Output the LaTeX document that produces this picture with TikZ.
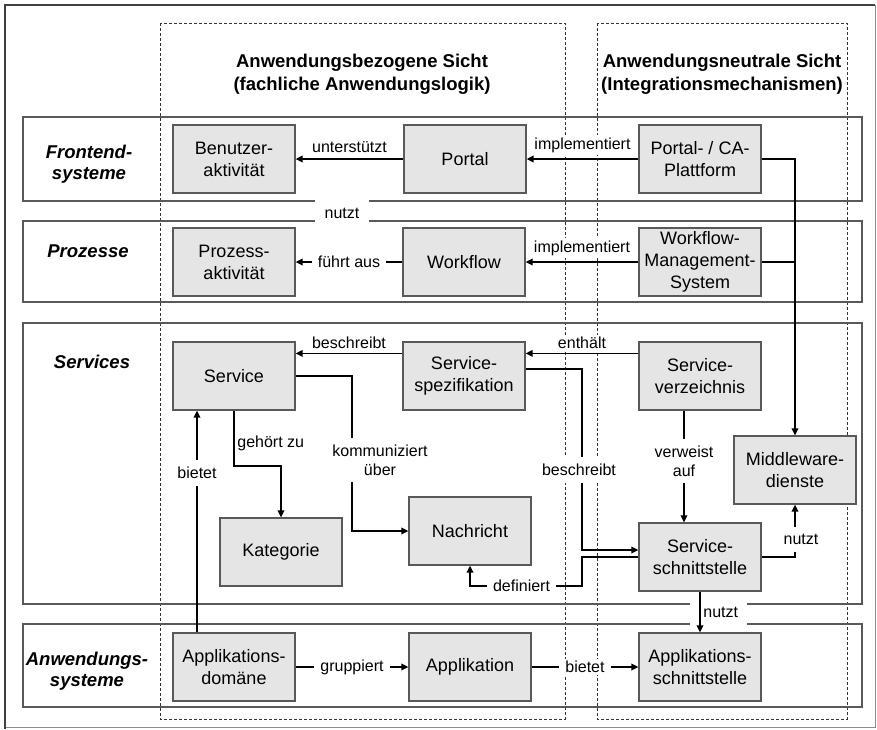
\documentclass[tikz,border=0pt]{standalone}
\usepackage{fontspec}
\setmainfont{Liberation Sans}
\usetikzlibrary{arrows.meta}

\tikzset{
  objekt/.style={draw=black!65, fill=black!10, line width=1.2pt, minimum width=122pt, minimum height=68pt, align=center, inner sep=2pt, font=\fontsize{18}{22}\selectfont},
  ebene/.style={draw=black!65, line width=1.1pt},
  sicht/.style={draw=black!80, line width=0.8pt, dash pattern=on 3pt off 2pt},
  beziehung/.style={line width=1.8pt, -{Triangle[length=7pt,width=6.5pt]}},
  linie/.style={line width=1.8pt},
  beschr/.style={fill=white, inner sep=2.5pt, align=center, font=\fontsize{16}{19}\selectfont},
  quer/.style={beschr, inner xsep=6pt},
  laengs/.style={beschr, inner ysep=7pt},
  ebenentitel/.style={align=center, font=\bfseries\itshape\fontsize{18.5}{21}\selectfont},
  sichttitel/.style={align=center, font=\bfseries\fontsize{18.5}{23}\selectfont}
}

\begin{document}
\begin{tikzpicture}[x=1pt, y=-1pt]
  \useasboundingbox (0,0) rectangle (877,729);

  % Rahmen
  \draw[black!45, line width=0.8pt] (875,5) -- (875,727) -- (5,727);
  \draw[black!75, line width=2.2pt] (5,729) -- (5,5) -- (875,5);

  % Sichten
  \draw[sicht] (160,23) rectangle (565,719);
  \draw[sicht] (597,23) rectangle (847,719);
  \node[sichttitel] (fachlich) at (362,74) {Anwendungsbezogene Sicht\\(fachliche Anwendungslogik)};
  \node[sichttitel] (neutral) at (722,74) {Anwendungsneutrale Sicht\\(Integrationsmechanismen)};

  % Ebenen
  \draw[ebene] (315,201) -- (23,201) -- (23,117) -- (862,117) -- (862,201) -- (369,201);
  \draw[ebene] (315,221) -- (23,221) -- (23,302) -- (862,302) -- (862,221) -- (369,221);
  \draw[ebene] (690,604) -- (23,604) -- (23,323) -- (862,323) -- (862,604) -- (747,604);
  \draw[ebene] (690,624) -- (23,624) -- (23,707) -- (862,707) -- (862,624) -- (747,624);

  \node[ebenentitel] (frontend) at (89,164) {Frontend-\\systeme};
  \node[ebenentitel] (prozesse) at (88,251) {Prozesse};
  \node[ebenentitel] (services) at (92,362) {Services};
  \node[ebenentitel] (anwendung) at (87,671) {Anwendungs-\\systeme};
  \node[beschr, fill=none] (nutztfront) at (342,213) {nutzt};

  % Objekte
  \node[objekt] (benutzer) at (234,159) {Benutzer-\\aktivität};
  \node[objekt] (portal) at (465,159) {Portal};
  \node[objekt] (plattform) at (700,159) {Portal- / CA-\\Plattform};

  \node[objekt] (prozess) at (234,262) {Prozess-\\aktivität};
  \node[objekt] (workflow) at (464,262) {Workflow};
  \node[objekt] (wms) at (700,262) {Workflow-\\Management-\\System};

  \node[objekt] (service) at (234,376) {Service};
  \node[objekt] (spez) at (464,376) {Service-\\spezifikation};
  \node[objekt] (verz) at (700,376) {Service-\\verzeichnis};
  \node[objekt] (middleware) at (795,470) {Middleware-\\dienste};
  \node[objekt] (kategorie) at (281,552) {Kategorie};
  \node[objekt] (nachricht) at (470,531) {Nachricht};
  \node[objekt] (schnitt) at (700,557) {Service-\\schnittstelle};

  \node[objekt] (domaene) at (234,667) {Applikations-\\domäne};
  \node[objekt] (applikation) at (470,667) {Applikation};
  \node[objekt] (aschnitt) at (700,667) {Applikations-\\schnittstelle};

  \coordinate (kx) at (352,460);
  \coordinate (bx) at (582,470);
  \coordinate (dx) at (582,586);

  % Beziehungen
  \draw[beziehung] (portal) -- node[beschr, above=3pt] {unterstützt} (benutzer);
  \draw[beziehung] (plattform) -- node[beschr, above=3pt] {implementiert} (portal);
  \draw[beziehung] (plattform.east) -| (middleware.north);

  \draw[beziehung] (workflow) -- node[quer] {führt aus} (prozess);
  \draw[beziehung] (wms) -- node[beschr, above=3pt] {implementiert} (workflow);
  \draw[linie] (wms.east) -- (wms.east -| middleware.north);

  \draw[beziehung] ([yshift=-12pt]spez.north west) -- node[beschr, above=1pt] {beschreibt} ([yshift=-12pt]service.north east);
  \draw[beziehung] ([yshift=-12pt]verz.north west) -- node[beschr, above=1pt] {enthält} ([yshift=-12pt]spez.north east);
  \draw[beziehung] (service.east) -| (kx) node[laengs, xshift=28pt] {kommuniziert\\über} |- (nachricht.west);
  \draw[beziehung] (service.south) -- node[beschr, fill=none, right, pos=0.6] {gehört zu} ++(0,55) -| (kategorie.north);
  \draw[beziehung] ([xshift=-37pt]domaene.north) -- node[laengs, pos=0.72] {bietet} ([xshift=-37pt]service.south);
  \draw[beziehung] ([yshift=7pt]spez.east) -| (bx) node[laengs, xshift=-3pt] {beschreibt} |- ([yshift=7pt]schnitt.west);
  \draw[beziehung] (schnitt.west) -| (dx) -| node[quer, pos=0.27] {definiert} (nachricht.south);
  \draw[beziehung] ([xshift=-16pt]verz.south) -- node[laengs, pos=0.45] {verweist\\auf} ([xshift=-16pt]schnitt.north);
  \draw[beziehung] (schnitt.east) -| node[laengs, pos=0.667, xshift=6pt] {nutzt} (middleware.south);
  \draw[beziehung] (schnitt.south) -- node[beschr, fill=none, right] {nutzt} (aschnitt.north);

  \draw[beziehung] (domaene) -- node[quer] {gruppiert} (applikation);
  \draw[beziehung] (applikation) -- node[quer] {bietet} (aschnitt);
\end{tikzpicture}
\end{document}
